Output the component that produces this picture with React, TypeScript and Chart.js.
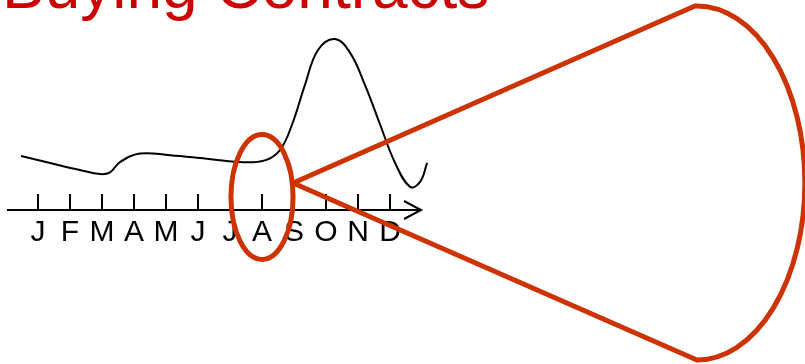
import React, { useEffect, useRef } from "react";
import { Chart, registerables } from "chart.js";

Chart.register(...registerables);

// Month tick labels (x value = month index)
const MONTH_LABELS = ["J", "F", "M", "A", "M", "J", "J", "A", "S", "O", "N", "D"];

// Demand curve: x = month index (0 = Jan), y = relative demand index (peak = 100)
const CURVE_MONTHS = [-0.53, 0.38, 1.31, 1.94, 2.25, 2.56, 3.19, 4.13, 5.06, 6.31, 7.09, 7.56, 7.94, 8.34, 8.75, 9.28, 9.75, 10.22, 10.69, 11.16, 11.63, 11.94, 12.16];
const CURVE_VALUES = [31.6, 27.5, 23.4, 21.0, 22.0, 28.0, 33.0, 32.0, 30.4, 28.0, 29.0, 35.0, 50.0, 73.0, 93.6, 100.0, 92.0, 73.0, 50.0, 27.5, 13.5, 16.4, 27.5];

const TITLE = "Buying Contracts";
const HIGHLIGHT_MONTH = 7; // August

const X_MIN = -1.1875;
const X_MAX = 23.96875;
const Y_MIN = -90.06;
const Y_MAX = 122.8;

const drawingPlugin = {
  id: "drawing",
  afterDraw(chart: any) {
    const { ctx, scales } = chart;
    const xs = scales.x;
    const ys = scales.y;
    const X = (v: number) => xs.getPixelForValue(v);
    const Y = (v: number) => ys.getPixelForValue(v);
    ctx.save();

    // Title
    ctx.fillStyle = "#cc0000";
    ctx.font = '64px "Liberation Sans", Arial, sans-serif';
    ctx.textBaseline = "alphabetic";
    ctx.textAlign = "left";
    ctx.fillText(TITLE, 2, 8);

    // Axis
    const y0 = Y(0);
    const xStart = X(-0.97);
    const xEnd = X(11.97);
    ctx.strokeStyle = "#000";
    ctx.lineWidth = 2;
    ctx.beginPath();
    ctx.moveTo(xStart, y0);
    ctx.lineTo(xEnd, y0);
    ctx.stroke();
    // arrowhead
    ctx.beginPath();
    ctx.moveTo(xEnd - 17, y0 - 9);
    ctx.lineTo(xEnd, y0);
    ctx.lineTo(xEnd - 17, y0 + 9);
    ctx.stroke();

    // ticks and labels
    ctx.fillStyle = "#000";
    ctx.font = '30px "Liberation Sans", Arial, sans-serif';
    ctx.textAlign = "center";
    MONTH_LABELS.forEach((lab, i) => {
      const x = X(i);
      ctx.beginPath();
      ctx.moveTo(x, y0);
      ctx.lineTo(x, y0 - 16);
      ctx.stroke();
      ctx.fillText(lab, x, y0 + 31);
    });

    // Highlight ellipse and cone
    const red = "#cc3300";
    ctx.strokeStyle = red;
    ctx.lineWidth = 5;
    const cx = X(HIGHLIGHT_MONTH);
    const cy = Y(7.6);
    const rx = X(HIGHLIGHT_MONTH + 0.97) - cx;
    const ry = cy - Y(7.6 + 36.5);
    ctx.beginPath();
    ctx.ellipse(cx, cy, rx, ry, 0, 0, Math.PI * 2);
    ctx.stroke();

    const bx = X(20.59);
    const by = Y(15.8);
    const brx = X(20.59 + 3.375) - bx;
    const bry = by - Y(15.8 + 103.5);
    const apexX = X(7.97);
    const apexY = Y(15.8);
    ctx.lineJoin = "round";
    ctx.beginPath();
    ctx.moveTo(apexX, apexY);
    ctx.lineTo(bx - 2, by - bry);
    ctx.ellipse(bx, by, brx, bry, 0, -Math.PI / 2, Math.PI / 2);
    ctx.lineTo(apexX, apexY);
    ctx.stroke();

    ctx.restore();
  },
};

export default function App() {
  const ref = useRef<HTMLCanvasElement | null>(null);
  useEffect(() => {
    document.body.style.margin = "0";
    if (!ref.current) return;
    const chart = new Chart(ref.current, {
      type: "line",
      data: {
        datasets: [
          {
            data: CURVE_MONTHS.map((m, i) => ({ x: m, y: CURVE_VALUES[i] })),
            borderColor: "#000",
            borderWidth: 2,
            pointRadius: 0,
            tension: 0.4,
            fill: false,
          },
        ],
      },
      options: {
        animation: false,
        responsive: false,
        devicePixelRatio: 1,
        layout: { padding: 0 },
        plugins: { legend: { display: false }, tooltip: { enabled: false }, title: { display: false } },
        scales: {
          x: { type: "linear", min: X_MIN, max: X_MAX, display: false },
          y: { type: "linear", min: Y_MIN, max: Y_MAX, display: false },
        },
      },
      plugins: [drawingPlugin],
    });
    return () => chart.destroy();
  }, []);
  return (
    <div style={{ position: "fixed", left: 0, top: 0, width: 805, height: 364, background: "#fff" }}>
      <canvas ref={ref} width={805} height={364} />
    </div>
  );
}
